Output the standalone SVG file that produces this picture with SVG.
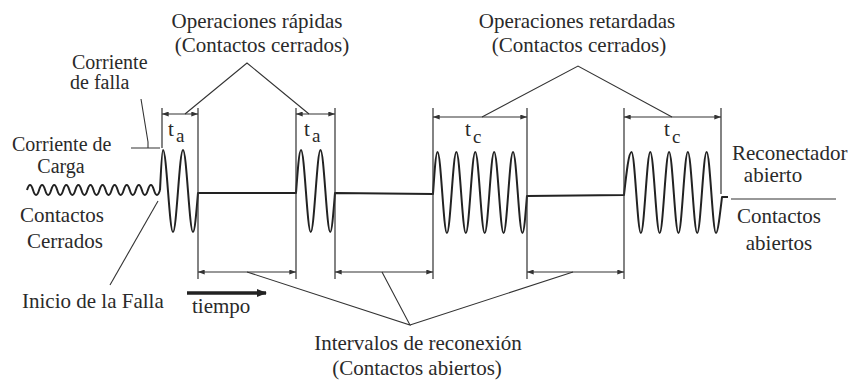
<svg xmlns="http://www.w3.org/2000/svg" width="851" height="385" viewBox="0 0 851 385">
<defs>
<style>
.m{text-anchor:middle}
.s20{font-size:20px}
.sub{font-size:19px}
.wave{fill:none;stroke:#222;stroke-width:2;stroke-linejoin:round}
.dim{fill:none;stroke:#333;stroke-width:1.2}
.lead{fill:none;stroke:#333;stroke-width:1.1}
</style>
<marker id="arr" viewBox="0 0 8 6" refX="8" refY="3" markerWidth="7" markerHeight="5" orient="auto-start-reverse" markerUnits="userSpaceOnUse">
<path d="M0,0 L8,3 L0,6 z" fill="#333"/>
</marker>
<marker id="arrT" viewBox="0 0 10 8" refX="9" refY="4" markerWidth="10" markerHeight="8" orient="auto" markerUnits="userSpaceOnUse">
<path d="M0,0 L10,4 L0,8 z" fill="#222"/>
</marker>
</defs>
<rect width="851" height="385" fill="#fff"/>

<g id="waveform">
<path class="wave" d="M27,190 q3.02,-10 6.045,0 t6.045,0 t6.045,0 t6.045,0 t6.045,0 t6.045,0 t6.045,0 t6.045,0 t6.045,0 t6.045,0 t6.045,0 t6.045,0 t6.045,0 t6.045,0 t6.045,0 t6.045,0 t6.045,0 t6.045,0 t6.045,0 t6.045,0 t6.045,0 t6.045,0"/>
<path class="wave" d="M160,190 C160.8,175 161.8,150 163,150 c3.63,0 6.37,82 10,82 s6.37,-82 10,-82 s6.37,82 10,82 c1.8,0 3.4,-20 5,-39 L296,193 c1.63,-22 3.19,-43 5,-43 c3.54,0 6.21,82 9.75,82 s6.21,-82 9.75,-82 s6.21,82 9.75,82 c1.72,0 3.2,-20 4.75,-39 L433,194 c1.47,-21.5 2.870,-42 4.5,-42 c3.43,0 6.01,81 9.44,81 s6.01,-81 9.44,-81 s6.01,81 9.44,81 s6.01,-81 9.44,-81 s6.01,81 9.44,81 s6.01,-81 9.44,-81 s6.01,81 9.44,81 s6.01,-81 9.44,-81 s6.01,81 9.44,81 c1.63,0 3,-18 4.5,-37 L624,195 c2.4,-22 4.8,-43 7.5,-43 c3.41,0 5.98,81 9.39,81 s5.98,-81 9.39,-81 s5.98,81 9.39,81 s5.98,-81 9.39,-81 s5.98,81 9.39,81 s5.98,-81 9.39,-81 s5.98,81 9.39,81 s5.98,-81 9.39,-81 s5.98,81 9.39,81 c1.8,0 3.9,-18 6,-36 L728,197"/>
</g>

<g id="connectors">
<g id="dimension-lines">
<path class="dim" d="M162,108 V148 M198,108 V279 M296,108 V279 M335,108 V279 M433,108 V279 M527,108 V279 M624,108 V279 M721,108 V194"/>
<line class="dim" x1="162" y1="114" x2="198" y2="114" marker-start="url(#arr)" marker-end="url(#arr)"/>
<line class="dim" x1="296" y1="114" x2="335" y2="114" marker-start="url(#arr)" marker-end="url(#arr)"/>
<line class="dim" x1="433" y1="117" x2="527" y2="117" marker-start="url(#arr)" marker-end="url(#arr)"/>
<line class="dim" x1="624" y1="117" x2="721" y2="117" marker-start="url(#arr)" marker-end="url(#arr)"/>
<line class="dim" x1="198" y1="272" x2="296" y2="272" marker-start="url(#arr)" marker-end="url(#arr)"/>
<line class="dim" x1="335" y1="272" x2="433" y2="272" marker-start="url(#arr)" marker-end="url(#arr)"/>
<line class="dim" x1="527" y1="272" x2="624" y2="272" marker-start="url(#arr)" marker-end="url(#arr)"/>
</g>
<g id="leaders">
<path class="lead" d="M185,114 L247,63 L309,114"/>
<path class="lead" d="M482,117 L578,66 L672,117"/>
<path class="lead" d="M247,272 L410,325 L382,272 M410,325 L573,272"/>
<path class="lead" d="M141,99 L148,142 V148 M131,148 H160"/>
<path class="lead" d="M110,285 L158,201"/>
<path class="lead" d="M731,199 H836"/>
</g>
<line id="tiempo-arrow" x1="187" y1="293" x2="266" y2="293" stroke="#222" stroke-width="3.5" marker-end="url(#arrT)"/>
</g>

<g id="labels" font-family="'Liberation Serif', 'DejaVu Serif', 'Times New Roman', serif" font-size="21" fill="#2a2a2a">
<g id="label-rapidas">
<text class="m" x="257" y="28">Operaciones rápidas</text>
<text class="m" x="262" y="52">(Contactos cerrados)</text>
</g>
<g id="label-retardadas">
<text class="m" x="577" y="28">Operaciones retardadas</text>
<text class="m" x="579" y="52">(Contactos cerrados)</text>
</g>
<g id="label-falla">
<text class="s20" x="72" y="69">Corriente</text>
<text class="s20" x="70" y="89">de falla</text>
</g>
<g id="label-carga">
<text class="s20" x="12" y="151">Corriente de</text>
<text class="m s20" x="61" y="173">Carga</text>
</g>
<g id="label-cerrados">
<text x="20" y="222">Contactos</text>
<text x="27" y="248">Cerrados</text>
</g>
<g id="label-inicio">
<text x="22" y="308">Inicio de la Falla</text>
</g>
<g id="label-tiempo">
<text x="192" y="313">tiempo</text>
</g>
<g id="label-intervalos">
<text class="m" x="418" y="350">Intervalos de reconexión</text>
<text class="m" x="417" y="375">(Contactos abiertos)</text>
</g>
<g id="label-reconectador">
<text x="732" y="160">Reconectador</text>
<text class="m" x="773" y="182">abierto</text>
</g>
<g id="label-abiertos">
<text class="m" x="779" y="223">Contactos</text>
<text class="m" x="779" y="250">abiertos</text>
</g>
<g id="label-ta1"><text x="168" y="136">t</text><text class="sub" x="176" y="142">a</text></g>
<g id="label-ta2"><text x="304" y="136">t</text><text class="sub" x="312" y="142">a</text></g>
<g id="label-tc1"><text x="465" y="136">t</text><text class="sub" x="473" y="143">c</text></g>
<g id="label-tc2"><text x="664" y="136">t</text><text class="sub" x="672" y="143">c</text></g>
</g>
</svg>
